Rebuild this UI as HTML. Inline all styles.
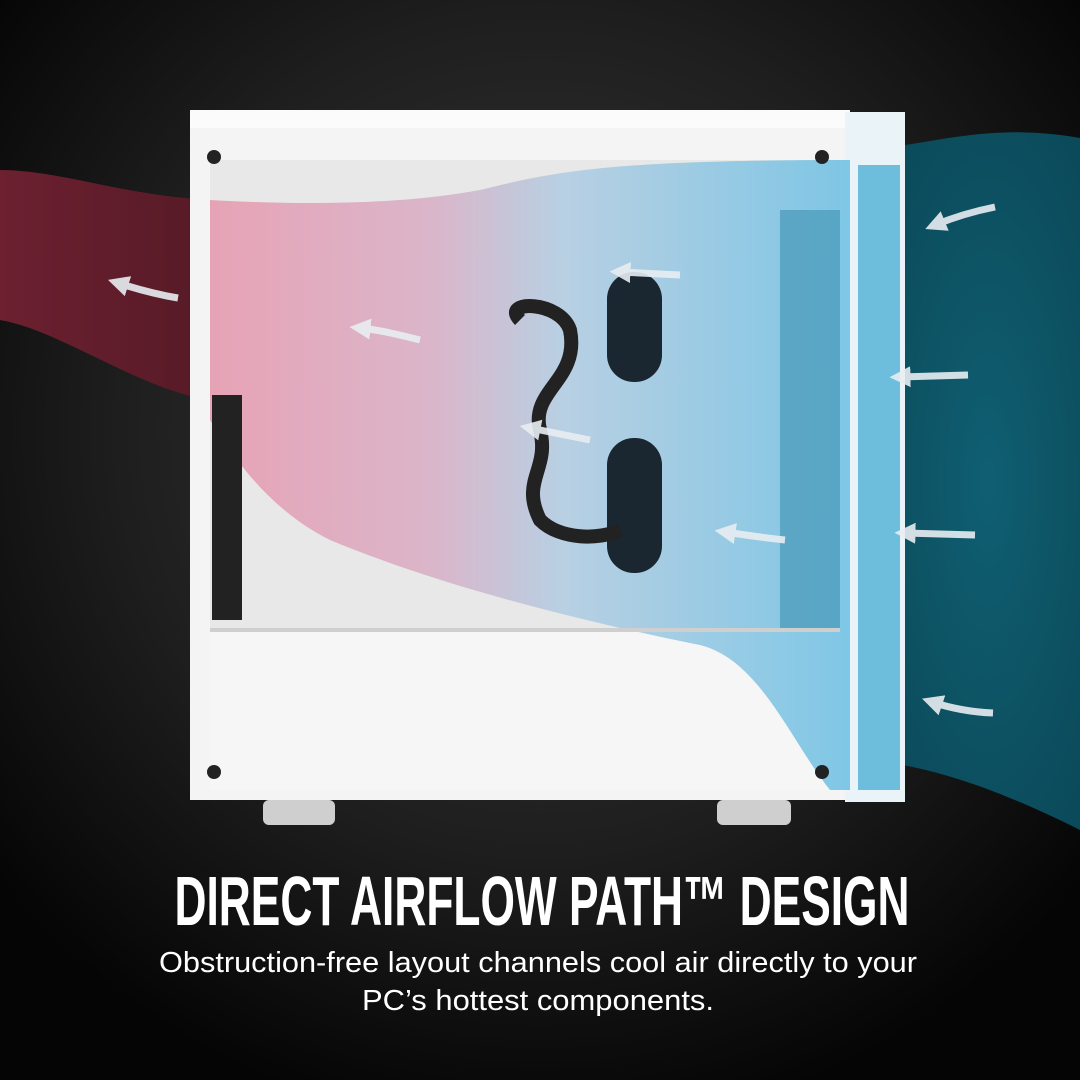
<!DOCTYPE html>
<html><head><style>
html,body{margin:0;padding:0;background:#000}
svg{display:block}
</style></head><body>
<svg width="1080" height="1080" viewBox="0 0 1080 1080" xmlns="http://www.w3.org/2000/svg">
<defs>
<radialGradient id="bg" cx="50%" cy="40%" r="65%">
<stop offset="0" stop-color="#3a3a3a"/><stop offset="0.6" stop-color="#1e1e1e"/><stop offset="1" stop-color="#050505"/>
</radialGradient>
<linearGradient id="inner" x1="0" y1="0" x2="1" y2="0">
<stop offset="0" stop-color="#e79bb0"/><stop offset="0.35" stop-color="#d9b0c6"/><stop offset="0.55" stop-color="#b3cde2"/><stop offset="1" stop-color="#72c2e4"/>
</linearGradient>
<linearGradient id="red" x1="0" y1="0" x2="1" y2="0">
<stop offset="0" stop-color="#6c2030"/><stop offset="1" stop-color="#561a26"/>
</linearGradient>
<radialGradient id="teal" cx="60%" cy="50%" r="60%">
<stop offset="0" stop-color="#0f5f72"/><stop offset="1" stop-color="#0b4a5a"/>
</radialGradient>
<marker id="ah" viewBox="0 0 10 10" refX="5" refY="5" markerWidth="3" markerHeight="3" orient="auto"><path d="M0,0 L10,5 L0,10 z" fill="#e8eef2"/></marker>
</defs>
<rect width="1080" height="1080" fill="url(#bg)"/>
<path d="M0,170 C60,170 120,195 210,200 L210,400 C140,390 60,330 0,320 Z" fill="url(#red)"/>
<path d="M850,150 C920,150 980,120 1080,138 L1080,830 C1000,790 920,760 850,760 Z" fill="url(#teal)"/>
<rect x="190" y="110" width="660" height="690" fill="#f4f4f4"/>
<rect x="190" y="110" width="660" height="18" fill="#fbfbfb"/>
<rect x="845" y="112" width="60" height="690" fill="#eaf4f8"/>
<rect x="210" y="160" width="630" height="470" fill="#e8e8e8"/>
<rect x="210" y="630" width="630" height="160" fill="#f6f6f6"/>
<path d="M210,200 C300,205 400,205 480,190 C560,170 620,160 850,160 L850,790 L830,790 C790,740 760,660 700,645 C600,625 450,590 330,540 C270,510 235,460 210,420 Z" fill="url(#inner)" opacity="0.9"/>
<rect x="858" y="165" width="42" height="625" fill="#5fb8d8" opacity="0.9"/>
<rect x="780" y="210" width="60" height="420" fill="#3d8fb0" opacity="0.6"/>
<rect x="607" y="272" width="55" height="110" rx="27" fill="#1a2630"/>
<rect x="607" y="438" width="55" height="135" rx="27" fill="#1a2630"/>
<path d="M520,320 C500,300 560,300 570,330 C580,380 530,390 540,430 C550,470 520,480 540,520 C560,540 600,540 620,530" stroke="#222" stroke-width="14" fill="none"/>
<rect x="212" y="395" width="30" height="225" fill="#222"/>
<rect x="210" y="628" width="630" height="4" fill="#cfcfcf"/>
<circle cx="214" cy="157" r="7" fill="#222"/><circle cx="822" cy="157" r="7" fill="#222"/>
<circle cx="214" cy="772" r="7" fill="#222"/><circle cx="822" cy="772" r="7" fill="#222"/>
<rect x="263" y="800" width="72" height="25" rx="6" fill="#cfcfcf"/>
<rect x="717" y="800" width="74" height="25" rx="6" fill="#cfcfcf"/>
<g stroke="#e8eef2" stroke-width="7" fill="none" marker-end="url(#ah)" opacity="0.9">
<path d="M178,298 C160,295 140,290 118,283"/>
<path d="M420,340 C400,335 380,330 360,328"/>
<path d="M680,275 L620,272"/>
<path d="M590,440 C570,436 550,432 530,428"/>
<path d="M785,540 C765,538 745,535 725,532"/>
<path d="M995,207 C970,212 952,218 935,225"/>
<path d="M968,375 L900,377"/>
<path d="M975,535 L905,533"/>
<path d="M993,713 C970,712 950,708 932,702"/>
</g>
<text x="542" y="925" text-anchor="middle" fill="#fff" font-family="'Liberation Sans Narrow','Liberation Sans',sans-serif" font-weight="bold" font-size="70" textLength="735" lengthAdjust="spacingAndGlyphs">DIRECT AIRFLOW PATH™ DESIGN</text>
<text x="538" y="972" text-anchor="middle" fill="#fff" font-family="'Liberation Sans',sans-serif" font-size="29" textLength="758" lengthAdjust="spacingAndGlyphs">Obstruction-free layout channels cool air directly to your</text>
<text x="538" y="1010" text-anchor="middle" fill="#fff" font-family="'Liberation Sans',sans-serif" font-size="29" textLength="352" lengthAdjust="spacingAndGlyphs">PC’s hottest components.</text>
</svg>
</body></html>
